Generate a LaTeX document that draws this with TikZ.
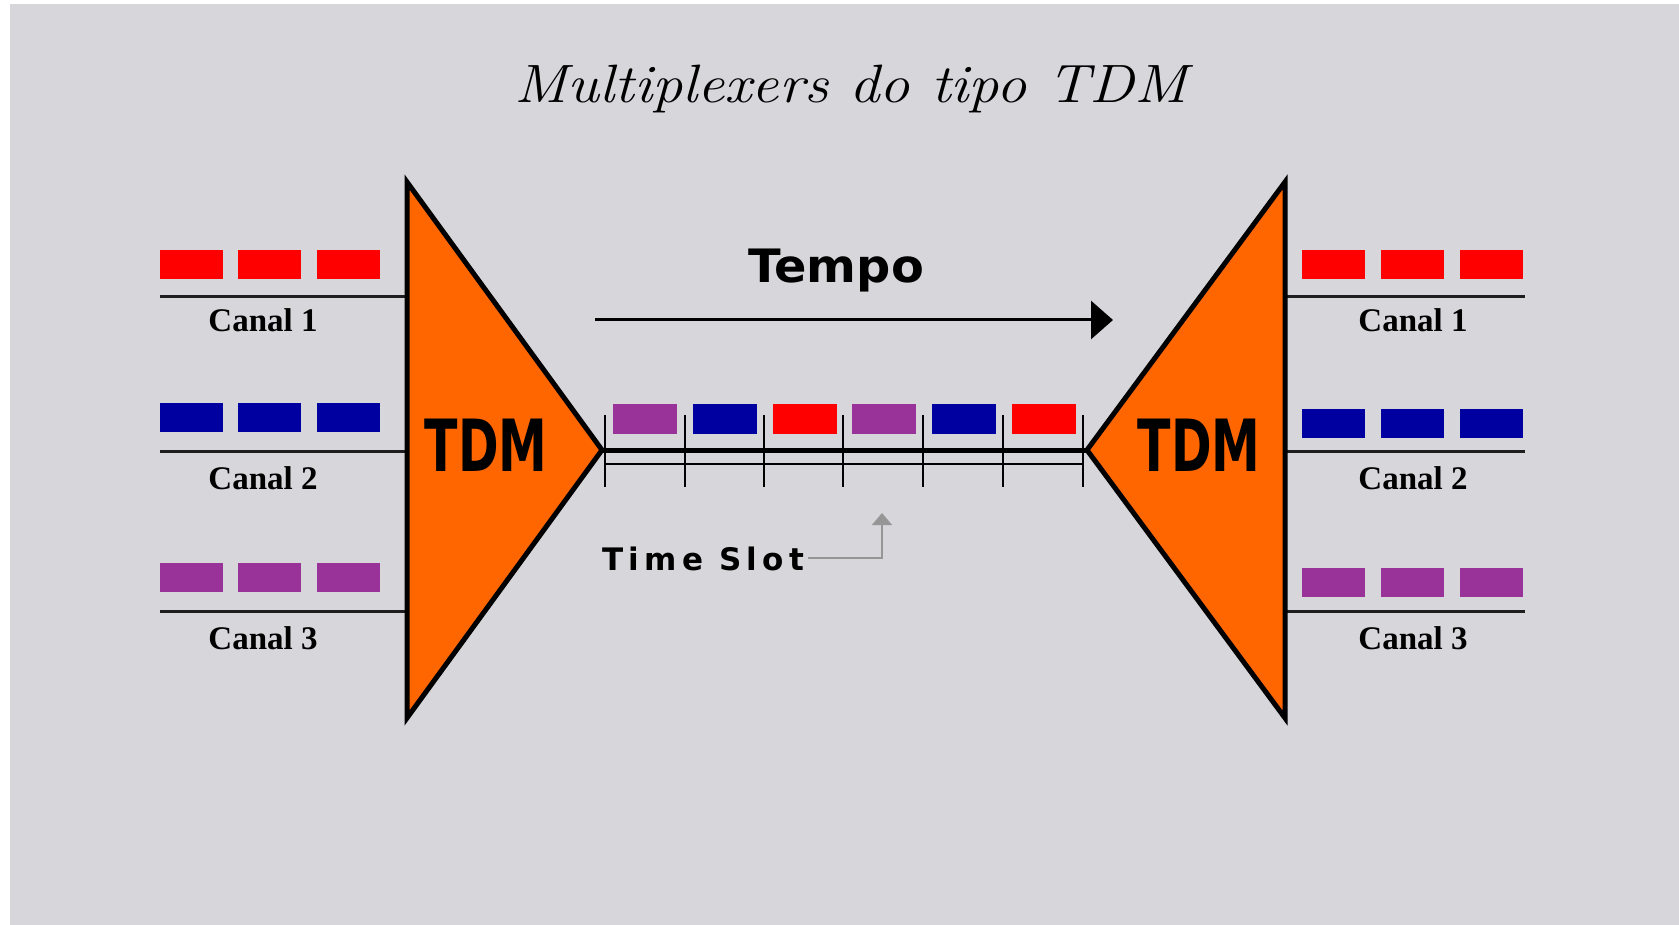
\documentclass[tikz,border=0pt]{standalone}
\usepackage{fontspec}
\usetikzlibrary{arrows.meta}
\newfontfamily\canalfont{Liberation Serif}
\newfontfamily\techfont{DejaVu Sans}
\newfontfamily\slotfont[LetterSpace=17]{DejaVu Sans}
\definecolor{bgpaper}{RGB}{214,214,219}
\definecolor{chred}{RGB}{255,0,0}
\definecolor{chblue}{RGB}{0,0,160}
\definecolor{chpurple}{RGB}{153,51,153}
\definecolor{muxorange}{RGB}{255,102,0}
\definecolor{wire}{RGB}{30,30,30}
\definecolor{hint}{RGB}{150,150,150}

\begin{document}
\begin{tikzpicture}[x=1pt,y=-1pt,
  slotbox/.style={rectangle,inner sep=0pt,minimum width=63pt,minimum height=29pt},
  framebox/.style={rectangle,inner sep=0pt,minimum width=64pt,minimum height=30pt},
  muxbody/.style={draw=black,line width=5pt,fill=muxorange},
  chanwire/.style={draw=wire,line width=3pt},
  chanlabel/.style={anchor=base,inner sep=0pt,font=\canalfont\bfseries\fontsize{33}{36}\selectfont},
  muxlabel/.style={anchor=base,inner sep=0pt,font=\techfont\bfseries\fontsize{72}{80}\selectfont},
  slottick/.style={draw=black,line width=2pt},
]
% paper background with its thin white margin
\fill[white] (0,0) rectangle (1679,925);
\fill[bgpaper] (10,4) rectangle (1679,925);
\useasboundingbox (0,0) rectangle (1679,925);

% title
\node[anchor=base,inner sep=0pt,font=\fontsize{54}{60}\selectfont\itshape] (title) at (851,103)
  {\scalebox{1.12}[1]{Multiplexers do tipo TDM}};

% multiplexer and demultiplexer bodies
\coordinate (lmTop) at (407,182);
\coordinate (lmBot) at (407,718);
\coordinate (lmApex) at (602,450);
\coordinate (rmTop) at (1285,182);
\coordinate (rmBot) at (1285,718);
\coordinate (rmApex) at (1087,450);

% input channels
\foreach \yy [count=\c] in {297,451,611}{
  \coordinate (inS\c) at (160,\yy);
  \coordinate (inE\c) at (405,\yy);
  \draw[chanwire] (inS\c) -- (inE\c);
}
\foreach \cx [count=\k] in {191,269,348}{
  \node[slotbox,fill=chred] (inRed\k) at (\cx,264.5) {};
  \node[slotbox,fill=chblue] (inBlue\k) at (\cx,417.5) {};
  \node[slotbox,fill=chpurple] (inPurple\k) at (\cx,577) {};
}
\node[chanlabel] (inLab1) at (263,331) {Canal 1};
\node[chanlabel] (inLab2) at (263,489) {Canal 2};
\node[chanlabel] (inLab3) at (263,649) {Canal 3};

% output channels
\foreach \yy [count=\c] in {297,451,611}{
  \coordinate (outS\c) at (1287,\yy);
  \coordinate (outE\c) at (1525,\yy);
  \draw[chanwire] (outS\c) -- (outE\c);
}
\foreach \cx [count=\k] in {1333.5,1412,1491.5}{
  \node[slotbox,fill=chred] (outRed\k) at (\cx,264.5) {};
  \node[slotbox,fill=chblue] (outBlue\k) at (\cx,423) {};
  \node[slotbox,fill=chpurple] (outPurple\k) at (\cx,582.5) {};
}
\node[chanlabel] (outLab1) at (1413,331) {Canal 1};
\node[chanlabel] (outLab2) at (1413,489) {Canal 2};
\node[chanlabel] (outLab3) at (1413,649) {Canal 3};

\draw[muxbody] (lmTop) -- (lmApex) -- (lmBot) -- cycle;
\draw[muxbody] (rmTop) -- (rmApex) -- (rmBot) -- cycle;
\node[muxlabel] (muxL) at (486,471) {\scalebox{0.68}[1]{TDM}};
\node[muxlabel] (muxR) at (1199,471) {\scalebox{0.68}[1]{TDM}};

% shared link with its time slots
\draw[line width=5pt] (lmApex) -- (rmApex);
\foreach \x [count=\i] in {605,685,764,843,923,1003,1083}{
  \coordinate (tkt\i) at (\x,415);
  \coordinate (tkb\i) at (\x,487);
  \draw[slottick] (tkt\i) -- (tkb\i);
}
\coordinate (busA) at (605,464);
\coordinate (busB) at (1083,464);
\draw[line width=2pt] (busA) -- (busB);
\foreach \cx/\col [count=\k] in {645/chpurple,725/chblue,805/chred,884/chpurple,963.5/chblue,1043.5/chred}{
  \node[framebox,fill=\col] (frame\k) at (\cx,419) {};
}

% time axis
\coordinate (tStart) at (595,320);
\coordinate (tEnd) at (1113,320);
\draw[line width=3pt,-{Triangle[length=22pt,width=38pt]}] (tStart) -- (tEnd);
\node[anchor=base,inner sep=0pt,font=\techfont\bfseries\fontsize{46}{50}\selectfont] (tempo) at (836,283) {\scalebox{1.04}[1]{Tempo}};

% time slot pointer
\node[anchor=base west,inner sep=0pt,font=\slotfont\fontsize{31}{34}\selectfont\bfseries] (slotLab) at (602,570) {Time Slot};
\coordinate (slotBend) at (882,558);
\coordinate (slotAim) at (882,513);
\draw[hint,line width=1.5pt,-{Triangle[length=12pt,width=20pt]}] (slotLab.east |- slotBend) ++(4,0) -- (slotBend) -- (slotAim);
\end{tikzpicture}
\end{document}
